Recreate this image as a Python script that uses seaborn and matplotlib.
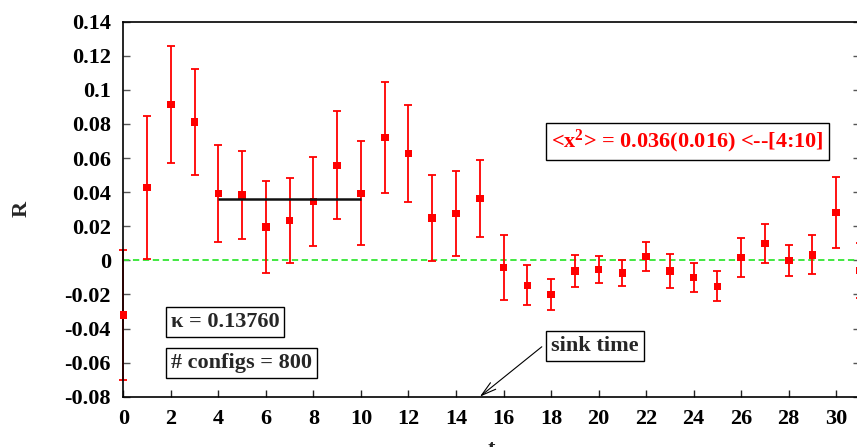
import numpy as np
import pandas as pd
import matplotlib
matplotlib.use("Agg")
import matplotlib.pyplot as plt
from matplotlib.ticker import FuncFormatter, MultipleLocator
import seaborn as sns

# Ratio R(t) with jackknife errors
t = list(range(32))
R = [-0.032, 0.0428, 0.0915, 0.081, 0.0393, 0.0385, 0.0197, 0.0234,
     0.0346, 0.0557, 0.0393, 0.0721, 0.0627, 0.025, 0.0275, 0.0363,
     -0.0042, -0.0147, -0.020, -0.0061, -0.0053, -0.0073, 0.0023, -0.0061,
     -0.010, -0.0153, 0.0017, 0.0099, 0.0, 0.0033, 0.0281, -0.006]
R_err = [0.038, 0.042, 0.0345, 0.031, 0.0286, 0.0257, 0.027, 0.025,
         0.026, 0.0317, 0.0305, 0.0324, 0.0287, 0.0253, 0.025, 0.0225,
         0.019, 0.0117, 0.0091, 0.0093, 0.008, 0.0077, 0.0086, 0.0099,
         0.0085, 0.0088, 0.0116, 0.0115, 0.0091, 0.0113, 0.0208, 0.016]

# Plateau fit
fit_value = 0.036
fit_error = 0.016
fit_range = [4, 10]

kappa = "0.13760"
n_configs = 800
sink_time = 15

df = pd.DataFrame({"t": t, "R": R, "err": R_err})

sns.set_theme(style="white")
plt.rcParams["font.family"] = ["Liberation Serif", "DejaVu Serif"]
plt.rcParams["font.weight"] = "bold"
plt.rcParams["axes.unicode_minus"] = False
plt.rcParams["mathtext.fontset"] = "custom"
plt.rcParams["mathtext.rm"] = "Liberation Serif:bold"
plt.rcParams["mathtext.it"] = "Liberation Serif:bold"
plt.rcParams["mathtext.bf"] = "Liberation Serif:bold"

FS = 16

fig = plt.figure(figsize=(8.57, 4.47), dpi=100)
ax = fig.add_axes([0.1439, 0.1125, 0.8596, 0.8390])

ax.axhline(0, color="#33e633", lw=1.3, ls=(0, (3.5, 2)), zorder=1)

ax.errorbar(df["t"], df["R"], yerr=df["err"], fmt="none", ecolor="#ff0000",
            elinewidth=1.3, capsize=2.6, capthick=1.3, clip_on=False, zorder=2)
sns.scatterplot(data=df, x="t", y="R", marker="s", s=30, color="#ff0000",
                edgecolor="none", linewidth=0, ax=ax, clip_on=False, zorder=3,
                legend=False)

ax.hlines(fit_value, fit_range[0], fit_range[1], color="#111111", lw=1.8, zorder=4)

ax.set_xlim(0, 31)
ax.set_ylim(-0.08, 0.14)
ax.xaxis.set_major_locator(MultipleLocator(2))
ax.yaxis.set_major_locator(MultipleLocator(0.02))
ax.yaxis.set_major_formatter(FuncFormatter(lambda v, p: "%g" % round(v, 4)))

for side in ["left", "bottom", "top", "right"]:
    ax.spines[side].set_color("black")
    ax.spines[side].set_linewidth(1.2)

ax.tick_params(axis="both", direction="in", length=5, width=1.0,
               labelsize=FS, pad=9)
ax.tick_params(axis="y", colors="#555555", labelcolor="black", right=True, left=True)
ax.tick_params(axis="x", colors="#222222", labelcolor="black", bottom=True, top=False)
for lab in ax.get_xticklabels() + ax.get_yticklabels():
    lab.set_fontweight("bold")

ax.set_xlabel("t", fontsize=FS, fontweight="bold")
ax.set_ylabel("R", fontsize=FS, fontweight="bold")
ax.xaxis.set_label_coords(0.5, -0.112)
ax.yaxis.set_label_coords(-0.125, 0.5)

box = dict(boxstyle="square,pad=0.22", fc="white", ec="black", lw=1.0)

ax.text(18, 0.0699,
        "<x$^{2}$> = %.3f(%.3f) <--[%d:%d]" % (fit_value, fit_error, fit_range[0], fit_range[1]),
        color="#ff0000", fontsize=FS, fontweight="bold", ha="left", va="center",
        bbox=box, zorder=5)
ax.text(2, -0.0363, "\u03ba = %s" % kappa, fontsize=FS, fontweight="bold",
        ha="left", va="center", bbox=box, zorder=5)
ax.text(2, -0.0604, "# configs = %d" % n_configs, fontsize=FS, fontweight="bold",
        ha="left", va="center", bbox=box, zorder=5)
ax.text(18, -0.0503, "sink time", fontsize=FS, fontweight="bold",
        ha="left", va="center", bbox=box, zorder=5)
ax.annotate("", xy=(sink_time, -0.08), xytext=(17.61, -0.0507),
            arrowprops=dict(arrowstyle="->,head_length=0.9,head_width=0.25",
                            color="black", lw=0.8, shrinkA=0, shrinkB=0),
            annotation_clip=False, zorder=5)

fig.savefig("out.png", dpi=100)
